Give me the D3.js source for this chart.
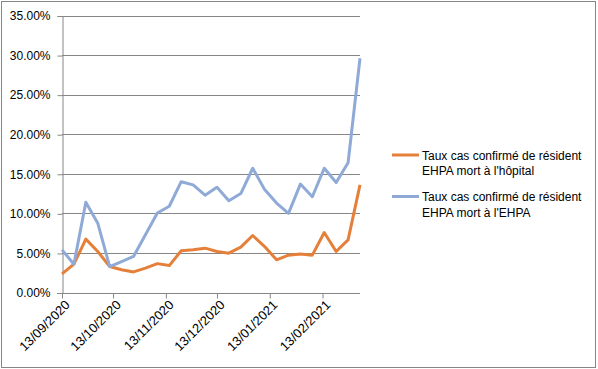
<!DOCTYPE html>
<meta charset="utf-8">
<head>
  <title>Taux cas confirmé de résident EHPA</title>
</head>
<script src="https://d3js.org/d3.v7.min.js"></script>
<style>
  body { margin: 0; background: #fff; }
  text { font-family: "Liberation Sans", Arial, sans-serif; fill: #000; }
</style>
<div id="chart"></div>
<script>

  // weekly dates, first one is 13/09/2020
  var startDate = "2020-09-13";
  var nWeeks = 26;

  // Taux cas confirmé de résident EHPA mort à l'hôpital (%)
  var hopital = [2.36, 3.58, 6.74, 5.18, 3.28, 2.87, 2.6, 3.08, 3.65, 3.4,
                 5.27, 5.4, 5.6, 5.18, 4.97, 5.73, 7.2, 5.8, 4.13, 4.72,
                 4.85, 4.72, 7.58, 5.18, 6.65, 13.6];

  // Taux cas confirmé de résident EHPA mort à l'EHPA (%)
  var ehpa = [5.39, 3.58, 11.4, 8.76, 3.28, 3.9, 4.55, 7.3, 10.05, 10.9,
              14.0, 13.6, 12.3, 13.3, 11.6, 12.5, 15.7, 13.0, 11.3, 10.0,
              13.7, 12.1, 15.7, 13.9, 16.4, 29.6];

  var seriesNames = ["Taux cas confirmé de résident|EHPA mort à l'hôpital",
                     "Taux cas confirmé de résident|EHPA mort à l'EHPA"];
  var seriesColors = ["#E5803A", "#8FAAD6"];

  var yTicks = [0, 5, 10, 15, 20, 25, 30, 35];
  var xTicks = ["2020-09-13", "2020-10-13", "2020-11-13", "2020-12-13", "2021-01-13", "2021-02-13"];

  var W = 598, H = 369;
  var margin = {left: 62, right: 238, top: 15.5, bottom: 76.5};

  var parse = d3.timeParse("%Y-%m-%d");
  var d0 = parse(startDate);
  var dates = d3.range(nWeeks).map(function(i) { return d3.timeDay.offset(d0, i * 7); });

  var svg = d3.select("#chart").append("svg")
      .attr("width", W)
      .attr("height", H);

  // chart border
  svg.append("rect")
    .attr("x", 1.5).attr("y", 1.5)
    .attr("width", W - 4).attr("height", H - 3)
    .attr("fill", "none")
    .attr("stroke", "#868686");

  var x = d3.scaleTime()
    .domain([dates[0], dates[nWeeks - 1]])
    .range([margin.left, W - margin.right]);

  var y = d3.scaleLinear()
    .domain([0, 35])
    .range([H - margin.bottom, margin.top]);

  // gridlines
  svg.append("g")
    .selectAll("line")
    .data(yTicks.slice(1))
    .enter().append("line")
      .attr("x1", margin.left).attr("x2", W - margin.right)
      .attr("y1", function(d) { return Math.round(y(d)) + 0.5; })
      .attr("y2", function(d) { return Math.round(y(d)) + 0.5; })
      .attr("stroke", "#868686");

  // Y axis
  var yAxis = svg.append("g")
    .attr("transform", "translate(" + (margin.left + 0.5) + ",0.5)")
    .call(d3.axisLeft(y).tickValues(yTicks).tickSize(5).tickPadding(7)
      .tickFormat(function(d) { return d.toFixed(2) + "%"; }));
  yAxis.selectAll("path, line").attr("stroke", "#868686");
  yAxis.selectAll("text").style("font-size", "12px").attr("font-family", null);

  // X axis
  var xAxis = svg.append("g")
    .attr("transform", "translate(0," + (Math.round(y(0)) + 0.5) + ")")
    .call(d3.axisBottom(x).tickValues(xTicks.map(parse)).tickSize(5).tickSizeOuter(0)
      .tickFormat(d3.timeFormat("%d/%m/%Y")));
  xAxis.selectAll("path, line").attr("stroke", "#868686");
  xAxis.select(".domain").attr("d", "M" + (margin.left - 5) + ",0H" + (W - margin.right));
  xAxis.selectAll("text")
    .style("font-size", "13px")
    .attr("font-family", null)
    .attr("text-anchor", "end")
    .attr("dy", "0.35em")
    .attr("transform", "translate(5,9) rotate(-45)")
    .attr("y", 0);

  // lines
  var line = d3.line()
    .x(function(d, i) { return x(dates[i]); })
    .y(function(d) { return y(d); });

  [hopital, ehpa].forEach(function(s, k) {
    svg.append("path")
      .datum(s)
      .attr("fill", "none")
      .attr("stroke", seriesColors[k])
      .attr("stroke-width", 3)
      .attr("stroke-linejoin", "round")
      .attr("d", line);
  });

  // legend
  var legend = svg.append("g");
  var legendY = [155, 196.5];
  seriesNames.forEach(function(name, k) {
    var g = legend.append("g").attr("transform", "translate(392," + legendY[k] + ")");
    g.append("line")
      .attr("x1", 0).attr("x2", 27)
      .attr("stroke", seriesColors[k])
      .attr("stroke-width", 3);
    var parts = name.split("|");
    g.append("text")
      .attr("x", 30).attr("y", 4.5)
      .style("font-size", "12px")
      .text(parts[0]);
    g.append("text")
      .attr("x", 30).attr("y", 20)
      .style("font-size", "12px")
      .text(parts[1]);
  });

</script>
